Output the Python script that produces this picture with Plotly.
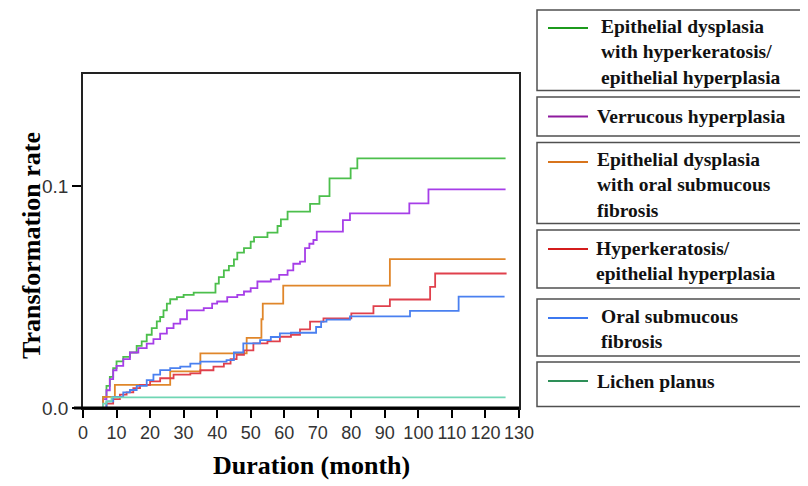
import plotly.graph_objects as go

# ---------------- data ----------------
names = [
    "Epithelial dysplasia<br>with hyperkeratosis/<br>epithelial hyperplasia",
    "Verrucous hyperplasia",
    "Epithelial dysplasia<br>with oral submucous<br>fibrosis",
    "Hyperkeratosis/<br>epithelial hyperplasia",
    "Oral submucous<br>fibrosis",
    "Lichen planus",
]

green_t = [5, 6, 7, 8, 9, 10, 12, 14, 16, 17.5, 19, 20.5, 22, 23, 24, 25, 26, 28, 30, 33,
           39.5, 40.5, 42, 43.5, 45, 46, 48, 50, 51, 55, 58, 59, 61, 67.7, 70.5, 73.5,
           79.8, 81.8, 126]
green_v = [0, 0.005, 0.010, 0.014, 0.018, 0.021, 0.023, 0.025, 0.028, 0.030, 0.033, 0.036,
           0.039, 0.041, 0.044, 0.047, 0.049, 0.050, 0.051, 0.052, 0.056, 0.059, 0.062,
           0.064, 0.067, 0.070, 0.072, 0.075, 0.077, 0.079, 0.082, 0.085, 0.0885, 0.092,
           0.0955, 0.1035, 0.108, 0.1125, 0.1125]

purple_t = [5, 6, 7, 8, 9, 10, 12, 14, 16.5, 19, 21, 23, 25, 27, 29, 31, 36, 38.5, 40, 43,
            46, 48, 50, 52, 56, 58.5, 61, 62.7, 64.7, 66.2, 67.5, 68.7, 69.7, 77.5, 79.6,
            97.3, 103, 126]
purple_v = [0, 0.004, 0.008, 0.013, 0.017, 0.019, 0.022, 0.025, 0.027, 0.029, 0.031, 0.0335,
            0.036, 0.038, 0.040, 0.044, 0.045, 0.047, 0.048, 0.050, 0.051, 0.0525, 0.054,
            0.057, 0.058, 0.060, 0.062, 0.065, 0.066, 0.072, 0.074, 0.0757, 0.0795, 0.0847,
            0.0877, 0.0922, 0.0985, 0.0985]

orange_t = [5, 6, 9.5, 26, 35, 48.8, 53.2, 53.6, 59.7, 91.5, 126]
orange_v = [0, 0.005, 0.0104, 0.0165, 0.0246, 0.0316, 0.040, 0.047, 0.0551, 0.0671, 0.0671]

red_t = [5, 7, 9, 11, 13, 15, 17, 20, 23, 27, 32, 35, 38.9, 42, 44, 45.8, 48, 50.8, 55,
         58.7, 62, 64.7, 67.7, 71.7, 80, 86.6, 91.5, 103.5, 105, 126.3]
red_v = [0, 0.002, 0.004, 0.006, 0.007, 0.009, 0.0104, 0.012, 0.0134, 0.015, 0.0156, 0.017,
         0.0186, 0.020, 0.022, 0.0239, 0.026, 0.0291, 0.030, 0.0321, 0.033, 0.0354, 0.0389,
         0.0404, 0.0426, 0.0459, 0.0489, 0.0546, 0.0606, 0.0606]

blue_t = [5, 7, 9, 12, 14, 16, 19, 21, 23, 26, 29, 32, 35, 42.8, 45, 47.8, 52.8, 56, 58.7,
          62, 69.5, 71, 72.6, 79.6, 97.5, 112, 125.7]
blue_v = [0, 0.003, 0.005, 0.007, 0.0081, 0.010, 0.0126, 0.015, 0.0171, 0.018, 0.0186,
          0.020, 0.0209, 0.0216, 0.025, 0.0291, 0.0306, 0.032, 0.0336, 0.0339, 0.0365,
          0.0389, 0.0398, 0.0413, 0.0438, 0.0502, 0.0502]

teal_t = [5, 6, 7, 8.5, 126]
teal_v = [0, 0.002, 0.003, 0.0048, 0.0048]

x_ticks = list(range(0, 131, 10))
y_ticks = [0.0, 0.1]
y_tick_labels = ["0.0", "0.1"]

line_colors = ["#4cbf4c", "#a63ee8", "#e0862a", "#e0404c", "#4a80f0", "#70d6b4"]
legend_colors = ["#1c9a1c", "#8e1a9e", "#d8741c", "#d41c1c", "#3c78f0", "#2e8f58"]

series = [(green_t, green_v), (purple_t, purple_v), (orange_t, orange_v),
          (red_t, red_v), (blue_t, blue_v), (teal_t, teal_v)]

# ---------------- figure ----------------
OFF = 8  # page body margin offset
W, H = 808 - OFF, 486 - OFF
L, R, T, B = 83 - OFF, 519 - OFF, 74 - OFF, 408 - OFF  # plot area in figure px

fig = go.Figure()
for (t, v), c, n in zip(series, line_colors, names):
    fig.add_trace(go.Scatter(x=t, y=v, mode="lines", line=dict(color=c, width=1.8, shape="hv"),
                             name=n.replace("<br>", " "), showlegend=False, hoverinfo="skip"))


def px_x(px):  # px given in screenshot coordinates
    return (px - OFF - L) / (R - L)


def px_y(py):
    return (B - (py - OFF)) / (B - T)


shapes = []
annotations = []

# legend boxes: (top, bottom, line_y, text_center_y, text_x) in screenshot px
boxes = [
    (10, 90.5, 28, 52, 599),
    (97, 136, 116.5, 116.5, 595),
    (142.5, 223.5, 162, 185, 595),
    (230, 288, 249, 260.5, 594),
    (299, 356, 318, 328.5, 599),
    (362, 406.5, 381, 381, 595),
]
for (top, bot, ly, ty, tx), lc, n in zip(boxes, legend_colors, names):
    shapes.append(dict(type="rect", xref="paper", yref="paper",
                       x0=px_x(537), x1=px_x(804), y0=px_y(bot), y1=px_y(top),
                       line=dict(color="#505050", width=1.5), fillcolor="rgba(0,0,0,0)",
                       layer="above"))
    shapes.append(dict(type="line", xref="paper", yref="paper",
                       x0=px_x(548), x1=px_x(588), y0=px_y(ly), y1=px_y(ly),
                       line=dict(color=lc, width=2)))
    annotations.append(dict(xref="paper", yref="paper", x=px_x(tx), y=px_y(ty),
                            xanchor="left", yanchor="middle", align="left", showarrow=False,
                            text="<b>" + n + "</b>",
                            font=dict(family="Liberation Serif, Times New Roman, serif",
                                      size=19.5, color="#111111")))

# axis titles placed as annotations
annotations.append(dict(xref="paper", yref="paper", x=px_x(311), y=px_y(465),
                        xanchor="center", yanchor="middle", showarrow=False,
                        text="<b>Duration (month)</b>",
                        font=dict(family="Liberation Serif, Times New Roman, serif",
                                  size=26, color="#000")))
annotations.append(dict(xref="paper", yref="paper", x=px_x(31), y=px_y(246),
                        xanchor="center", yanchor="middle", showarrow=False, textangle=-90,
                        text="<b>Transformation rate</b>",
                        font=dict(family="Liberation Serif, Times New Roman, serif",
                                  size=26, color="#000")))

# thick bottom axis line
shapes.append(dict(type="line", xref="paper", yref="paper", x0=px_x(74), x1=1.0, y0=0, y1=0,
                   line=dict(color="#000000", width=3), layer="above"))

fig.update_layout(
    width=W, height=H,
    margin=dict(l=L, r=W - R, t=T, b=H - B, pad=0, autoexpand=False),
    paper_bgcolor="white", plot_bgcolor="white",
    showlegend=False,
    shapes=shapes, annotations=annotations,
    xaxis=dict(range=[0, 130], tickmode="array", tickvals=x_ticks,
               ticktext=[str(v) for v in x_ticks], tickangle=0, automargin=False,
               ticks="outside", ticklen=8, tickwidth=1.5, tickcolor="#000",
               showline=True, linecolor="#222", linewidth=1.5, mirror=True,
               showgrid=False, zeroline=False,
               tickfont=dict(family="Liberation Sans, Arial, sans-serif", size=18, color="#333")),
    yaxis=dict(range=[0, 0.1505], tickmode="array", tickvals=y_ticks, ticktext=y_tick_labels,
               automargin=False,
               ticks="outside", ticklen=9, tickwidth=1.5, tickcolor="#000",
               showline=True, linecolor="#222", linewidth=1.5, mirror=True,
               showgrid=False, zeroline=False,
               tickfont=dict(family="Liberation Sans, Arial, sans-serif", size=19, color="#333")),
)

fig.write_html("out.html")
